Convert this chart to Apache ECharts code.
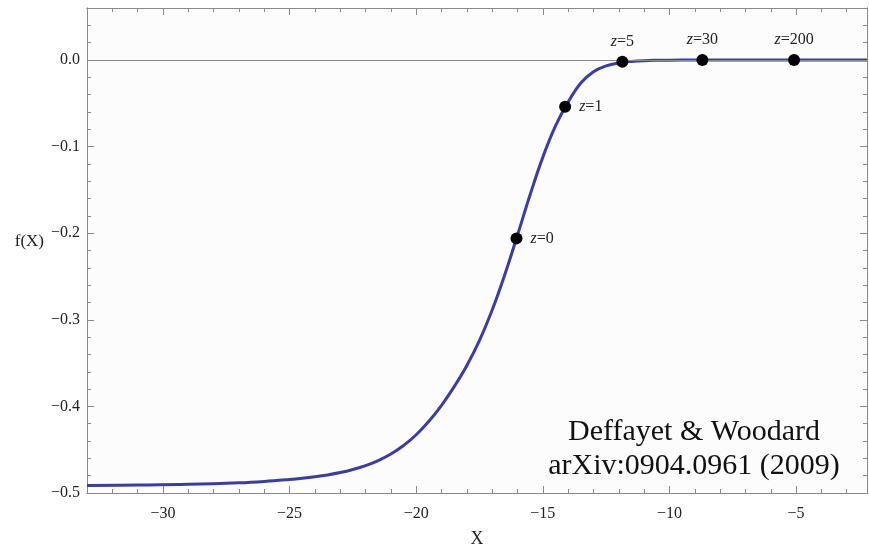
<!DOCTYPE html>
<html>
<head>
<meta charset="utf-8">
<script src="https://cdn.jsdelivr.net/npm/echarts@6/dist/echarts.min.js"></script>
<style>
  html, body { margin: 0; padding: 0; background: #fff; }
  #main { width: 869px; height: 544px; }
</style>
</head>
<body>
<div id="main"></div>
<script>
// curve f(X)
var curveX = [-33, -31, -29, -27, -26, -25, -24.5, -24, -23.5, -23, -22.5, -22, -21.5, -21, -20.5, -20, -19.5, -19,
  -18.5, -18, -17.5, -17, -16.5, -16, -15.5, -15, -14.5, -14, -13.5, -13, -12.5, -12,
  -11.5, -11, -10.5, -10, -9, -8, -5, -2.2];
var curveY = [-0.4912, -0.4908, -0.4900, -0.4882, -0.4866, -0.4843, -0.4829, -0.4812, -0.4791, -0.4764, -0.4728, -0.4683, -0.4625, -0.4550, -0.4452, -0.4327, -0.4172, -0.3987,
  -0.3772, -0.3527, -0.3237, -0.2887, -0.2477, -0.2022, -0.1554, -0.1122, -0.0762, -0.0485, -0.0265, -0.0135, -0.0068, -0.0034,
  -0.0017, -0.0008, -0.0004, -0.0002, -0.0001, 0, 0, 0];

// marked redshifts
var zNames = ['0', '1', '5', '30', '200'];
var zX = [-16.04, -14.12, -11.86, -8.70, -5.08];
var zY = [-0.206, -0.054, -0.002, 0, 0];

// ticks
var xMajor = [-30, -25, -20, -15, -10, -5];
var xMinor = [-33, -32, -31, -29, -28, -27, -26, -24, -23, -22, -21, -19, -18, -17, -16,
  -14, -13, -12, -11, -9, -8, -7, -6, -4, -3];
var yMajor = [-0.5, -0.4, -0.3, -0.2, -0.1, 0];
var yMinor = [-0.48, -0.46, -0.44, -0.42, -0.38, -0.36, -0.34, -0.32, -0.28, -0.26, -0.24, -0.22,
  -0.18, -0.16, -0.14, -0.12, -0.08, -0.06, -0.04, -0.02, 0.02, 0.04];

(function () {
  var myChart = echarts.init(document.getElementById('main'));
  var serif = '"Liberation Serif", "DejaVu Serif", serif';
  var frameColor = '#8a8a8a';
  var minus = function (s) { return s.replace('-', '\u2212'); };

  // one axis per tick set (major / minor) and side (bottom / top / left / right)
  function xAx(pos, ticks, len, labels) {
    return {
      type: 'value', min: -33, max: -2.2, position: pos,
      axisLine: { show: true, onZero: false, lineStyle: { color: frameColor, width: 1 } },
      axisTick: { show: true, inside: true, length: len, customValues: ticks, lineStyle: { color: frameColor } },
      axisLabel: labels ? {
        show: true, customValues: ticks, margin: 13,
        fontFamily: serif, fontSize: 16, color: '#222',
        formatter: function (v) { return minus(String(v)); }
      } : { show: false },
      splitLine: { show: false }
    };
  }
  function yAx(pos, ticks, len, labels) {
    return {
      type: 'value', min: -0.5, max: 0.06, position: pos,
      axisLine: { show: true, onZero: false, lineStyle: { color: frameColor, width: 1 } },
      axisTick: { show: true, inside: true, length: len, customValues: ticks, lineStyle: { color: frameColor } },
      axisLabel: labels ? {
        show: true, customValues: ticks, margin: 7,
        fontFamily: serif, fontSize: 16, color: '#222',
        formatter: function (v) { return minus(v.toFixed(1)); }
      } : { show: false },
      splitLine: { show: false }
    };
  }

  var xBottom = xAx('bottom', xMajor, 7, true);
  xBottom.name = 'X';
  xBottom.nameLocation = 'middle';
  xBottom.nameGap = 37;
  xBottom.nameTextStyle = { fontFamily: serif, fontSize: 18, color: '#222' };

  var yLeft = yAx('left', yMajor, 7, true);
  yLeft.name = 'f(X)';
  yLeft.nameLocation = 'middle';
  yLeft.nameRotate = 0;
  yLeft.nameGap = 43;
  yLeft.nameTextStyle = { fontFamily: serif, fontSize: 17, color: '#222', verticalAlign: 'bottom' };

  var points = zX.map(function (x, i) {
    var right = i < 2;
    return {
      value: [x, zY[i]],
      label: {
        show: true,
        position: right ? 'right' : 'top',
        distance: right ? 8 : 6,
        formatter: '{i|z}=' + zNames[i],
        fontFamily: serif, fontSize: 16, color: '#222',
        rich: { i: { fontFamily: serif, fontStyle: 'italic', fontSize: 16, color: '#222' } }
      }
    };
  });

  var option = {
    animation: false,
    backgroundColor: '#ffffff',
    grid: {
      left: 87, right: 2, top: 8, bottom: 51,
      outerBoundsMode: 'none',
      containLabel: false,
      show: true, backgroundColor: '#fcfcfc', borderWidth: 0
    },
    xAxis: [
      xBottom,
      xAx('bottom', xMinor, 4, false),
      xAx('top', xMajor, 7, false),
      xAx('top', xMinor, 4, false)
    ],
    yAxis: [
      yLeft,
      yAx('left', yMinor, 4, false),
      yAx('right', yMajor, 7, false),
      yAx('right', yMinor, 4, false)
    ],
    series: [
      {
        name: 'f(X)',
        type: 'line',
        data: curveX.map(function (x, i) { return [x, curveY[i]]; }),
        smooth: 0.4,
        showSymbol: false,
        lineStyle: { color: '#3d3d9c', width: 3 },
        markLine: {
          silent: true, symbol: 'none', label: { show: false },
          lineStyle: { color: '#8a8a8a', width: 1, type: 'solid' },
          data: [{ yAxis: 0 }]
        },
        z: 3
      },
      {
        name: 'z',
        type: 'scatter',
        data: points,
        symbol: 'circle',
        symbolSize: 12,
        itemStyle: { color: '#000', opacity: 1 },
        z: 5
      }
    ],
    graphic: [
      {
        type: 'text',
        x: 694, y: 415,
        style: {
          text: 'Deffayet & Woodard\narXiv:0904.0961 (2009)',
          textAlign: 'center', textVerticalAlign: 'top',
          fontFamily: serif, fontSize: 30, lineHeight: 34, fill: '#111'
        }
      }
    ]
  };

  myChart.setOption(option);
  window.addEventListener('resize', function () {
    myChart.resize();
  });
})();
</script>
</body>
</html>
